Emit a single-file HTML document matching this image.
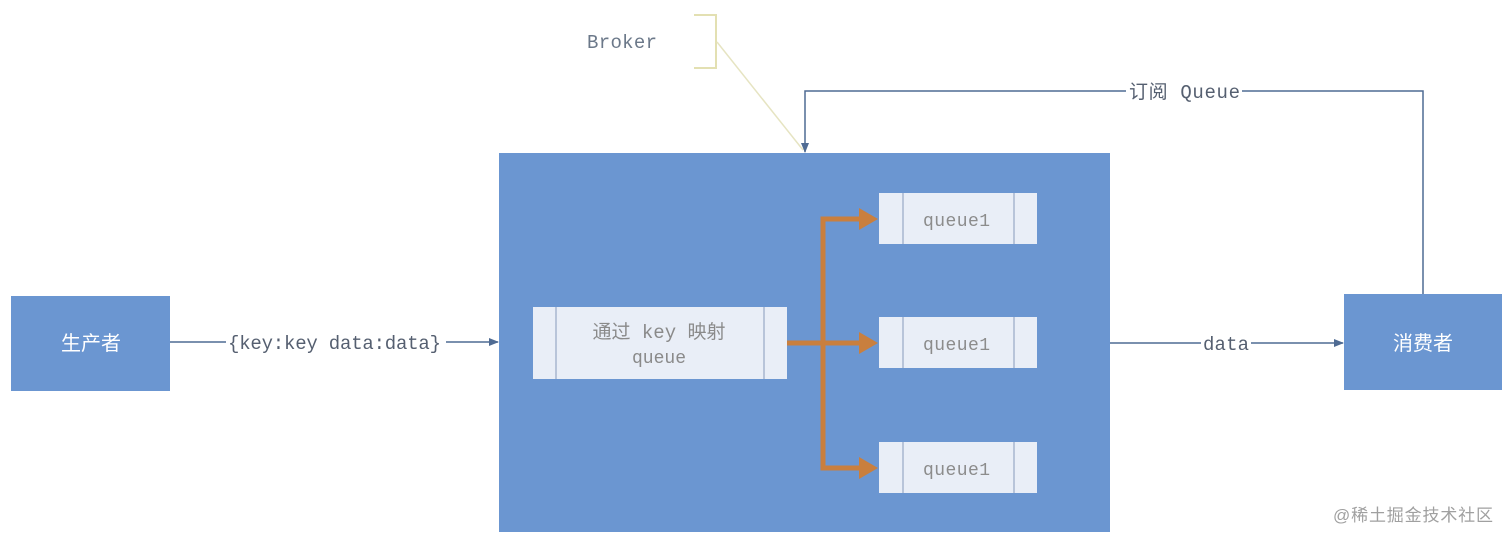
<!DOCTYPE html>
<html><head><meta charset="utf-8"><style>
html,body{margin:0;padding:0;background:#fff;}
svg{display:block;}
</style></head><body>
<svg width="1512" height="542" viewBox="0 0 1512 542" xmlns="http://www.w3.org/2000/svg">
<rect width="1512" height="542" fill="#fff"/>
<defs>
<marker id="ah" markerWidth="10" markerHeight="10" refX="9" refY="5" orient="auto" markerUnits="userSpaceOnUse">
<path d="M0,1 L10,5 L0,9 z" fill="#4f6b93"/>
</marker>
</defs>

<!-- Broker callout -->
<polyline points="694,15 716,15 716,68 694,68" fill="none" stroke="#e3e0b2" stroke-width="2"/>
<line x1="717" y1="42" x2="803" y2="150" stroke="#e6e4c2" stroke-width="1.5"/>
<text x="587" y="48" font-family="Liberation Mono, monospace" font-size="19" fill="#6b7889" textLength="70">Broker</text>

<!-- Broker box -->
<rect x="499" y="153" width="611" height="379" fill="#6b96d1"/>

<!-- Producer -->
<rect x="11" y="296" width="159" height="95" fill="#6b96d1"/>
<text x="91" y="350" text-anchor="middle" font-family="Liberation Sans, Noto Sans CJK SC, sans-serif" font-size="20" fill="#fff">生产者</text>

<!-- Consumer -->
<rect x="1344" y="294" width="158" height="96" fill="#6b96d1"/>
<text x="1423" y="350" text-anchor="middle" font-family="Liberation Sans, Noto Sans CJK SC, sans-serif" font-size="20" fill="#fff">消费者</text>

<!-- producer -> broker -->
<line x1="170" y1="342" x2="226" y2="342" stroke="#4f6b93" stroke-width="1.5"/>
<line x1="446" y1="342" x2="498" y2="342" stroke="#4f6b93" stroke-width="1.5" marker-end="url(#ah)"/>
<text x="228" y="349" font-family="Liberation Mono, monospace" font-size="19" fill="#555f70" textLength="213">{key:key data:data}</text>

<!-- broker -> consumer -->
<line x1="1110" y1="343" x2="1201" y2="343" stroke="#4f6b93" stroke-width="1.5"/>
<line x1="1251" y1="343" x2="1343" y2="343" stroke="#4f6b93" stroke-width="1.5" marker-end="url(#ah)"/>
<text x="1203" y="350" font-family="Liberation Mono, monospace" font-size="19" fill="#555f70" textLength="46">data</text>

<!-- subscribe -->
<polyline points="1423,294 1423,91 1242,91" fill="none" stroke="#4f6b93" stroke-width="1.5"/>
<polyline points="1126,91 805,91 805,152" fill="none" stroke="#4f6b93" stroke-width="1.5" marker-end="url(#ah)"/>
<text x="1129" y="98" font-family="Liberation Mono, Noto Sans CJK SC, monospace" font-size="19" fill="#555f70" textLength="111">订阅 Queue</text>

<!-- mapping box -->
<rect x="533" y="307" width="254" height="72" fill="#e9eef7"/>
<line x1="556" y1="307" x2="556" y2="379" stroke="#a8b7cf" stroke-width="1.5"/>
<line x1="764" y1="307" x2="764" y2="379" stroke="#a8b7cf" stroke-width="1.5"/>
<text x="659" y="338" text-anchor="middle" font-family="Liberation Mono, Noto Sans CJK SC, monospace" font-size="19" fill="#8a8a8a">通过 key 映射</text>
<text x="659" y="363" text-anchor="middle" font-family="Liberation Mono, monospace" font-size="18" fill="#8a8a8a">queue</text>

<!-- queues -->
<g font-family="Liberation Mono, monospace" font-size="18" fill="#8c8c8c">
<rect x="879" y="193" width="158" height="51" fill="#e9eef7"/>
<line x1="903" y1="193" x2="903" y2="244" stroke="#a8b7cf" stroke-width="1.5"/>
<line x1="1014" y1="193" x2="1014" y2="244" stroke="#a8b7cf" stroke-width="1.5"/>
<text x="923" y="226" textLength="67">queue1</text>

<rect x="879" y="317" width="158" height="51" fill="#e9eef7"/>
<line x1="903" y1="317" x2="903" y2="368" stroke="#a8b7cf" stroke-width="1.5"/>
<line x1="1014" y1="317" x2="1014" y2="368" stroke="#a8b7cf" stroke-width="1.5"/>
<text x="923" y="350" textLength="67">queue1</text>

<rect x="879" y="442" width="158" height="51" fill="#e9eef7"/>
<line x1="903" y1="442" x2="903" y2="493" stroke="#a8b7cf" stroke-width="1.5"/>
<line x1="1014" y1="442" x2="1014" y2="493" stroke="#a8b7cf" stroke-width="1.5"/>
<text x="923" y="475" textLength="67">queue1</text>
</g>

<!-- orange routing -->
<g stroke="#c97f3e" stroke-width="5" fill="none">
<line x1="787" y1="343" x2="862" y2="343"/>
<polyline points="862,219 823,219 823,468 862,468"/>
</g>
<g fill="#c97f3e">
<path d="M859,208 L878,219 L859,230 z"/>
<path d="M859,332 L878,343 L859,354 z"/>
<path d="M859,457 L878,468 L859,479 z"/>
</g>

<!-- watermark -->
<text x="1333" y="521" font-family="Liberation Sans, Noto Sans CJK SC, sans-serif" font-size="17" fill="#a0a0a0" textLength="160">@稀土掘金技术社区</text>
</svg>
</body></html>
